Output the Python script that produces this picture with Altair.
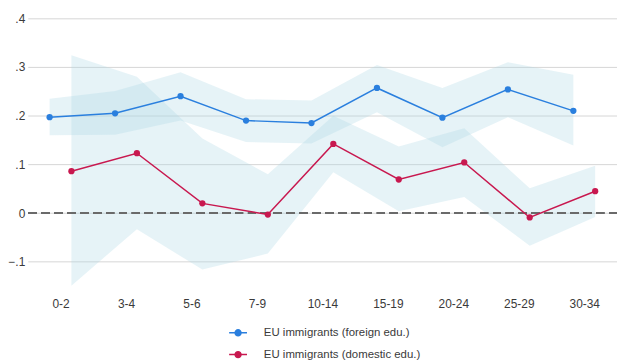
import altair as alt
import pandas as pd

# Age-group categories on the x axis
categories = ["0-2", "3-4", "5-6", "7-9", "10-14", "15-19", "20-24", "25-29", "30-34"]

series_names = ["EU immigrants (foreign edu.)", "EU immigrants (domestic edu.)"]

# Point estimates and confidence bounds per series
foreign_est = [0.197, 0.205, 0.240, 0.190, 0.185, 0.257, 0.196, 0.254, 0.210]
foreign_lo = [0.160, 0.161, 0.190, 0.146, 0.143, 0.207, 0.135, 0.197, 0.139]
foreign_hi = [0.235, 0.251, 0.289, 0.234, 0.231, 0.304, 0.257, 0.310, 0.284]

domestic_est = [0.086, 0.123, 0.020, -0.003, 0.142, 0.069, 0.104, -0.009, 0.045]
domestic_lo = [-0.149, -0.033, -0.116, -0.083, 0.084, 0.004, 0.033, -0.067, -0.008]
domestic_hi = [0.324, 0.280, 0.153, 0.080, 0.200, 0.137, 0.174, 0.051, 0.097]

series_colors = ["#2a7fde", "#c8184f"]
dodge = [-1 / 6, 1 / 6]

rows = []
for s, (est, lo, hi) in enumerate([(foreign_est, foreign_lo, foreign_hi),
                                    (domestic_est, domestic_lo, domestic_hi)]):
    for i, cat in enumerate(categories):
        rows.append({
            "series": series_names[s],
            "order": s,
            "age": cat,
            "pos": i + dodge[s],
            "est": est[i],
            "lo": lo[i],
            "hi": hi[i],
        })
df = pd.DataFrame(rows)

label_expr = "[" + ",".join(f"'{c}'" for c in categories) + "][datum.value]"

x = alt.X(
    "pos:Q",
    scale=alt.Scale(domain=[-0.5, len(categories) - 0.5], nice=False, zero=False),
    axis=alt.Axis(
        values=list(range(len(categories))),
        labelExpr=label_expr,
        title=None,
        grid=False,
        ticks=False,
        domain=False,
        labelPadding=13,
    ),
)
y_scale = alt.Scale(domain=[-0.15, 0.4], nice=False, zero=False)
y = alt.Y(
    "est:Q",
    scale=y_scale,
    axis=alt.Axis(
        values=[-0.1, 0, 0.1, 0.2, 0.3, 0.4],
        labelExpr="datum.value == 0 ? '0' : replace(format(datum.value, '.1f'), '0.', '.')",
        title=None,
        ticks=False,
        domain=False,
        labelPadding=3,
        gridColor="#d6d6d6",
        gridWidth=1,
    ),
)

color = alt.Color(
    "series:N",
    scale=alt.Scale(domain=series_names, range=series_colors),
    legend=alt.Legend(
        title=None,
        orient="none",
        legendX=202,
        legendY=307,
        direction="vertical",
        symbolType="M-1,0L1,0M-0.33,0A0.33,0.33,0,1,1,0.33,0A0.33,0.33,0,1,1,-0.33,0Z",
        symbolSize=324,
        symbolStrokeWidth=1.5,
        rowPadding=6,
        labelOffset=16,
        labelFontSize=11.5,
        labelLimit=300,
    ),
)

bands = alt.Chart(df).mark_area(color="#add8e6", opacity=0.3).encode(
    x=x,
    y=alt.Y("lo:Q", scale=y_scale),
    y2="hi:Q",
    detail="series:N",
)

zero = alt.Chart(df).mark_rule(color="#6a6a6a", strokeWidth=2, strokeDash=[8, 5]).encode(
    y=alt.datum(0, scale=y_scale),
)

lines = alt.Chart(df).mark_line(strokeWidth=1.5).encode(
    x=x, y=y, color=color, order="pos:Q"
)
points = alt.Chart(df).mark_point(filled=True, size=40, opacity=1).encode(
    x=x, y=y, color=color
)

chart = (
    alt.layer(bands, zero, lines, points)
    .properties(
        width=594,
        height=270,
        padding={"left": 28, "top": 17, "right": 0, "bottom": 75},
        autosize=alt.AutoSizeParams(type="none"),
    )
    .configure_view(stroke=None)
    .configure_axis(labelFont="Liberation Sans", labelFontSize=12, labelColor="#3a3a3a")
    .configure_legend(labelFont="Liberation Sans", labelColor="#3a3a3a")
)

chart.save("out.html", embed_options={"renderer": "svg", "actions": False})
